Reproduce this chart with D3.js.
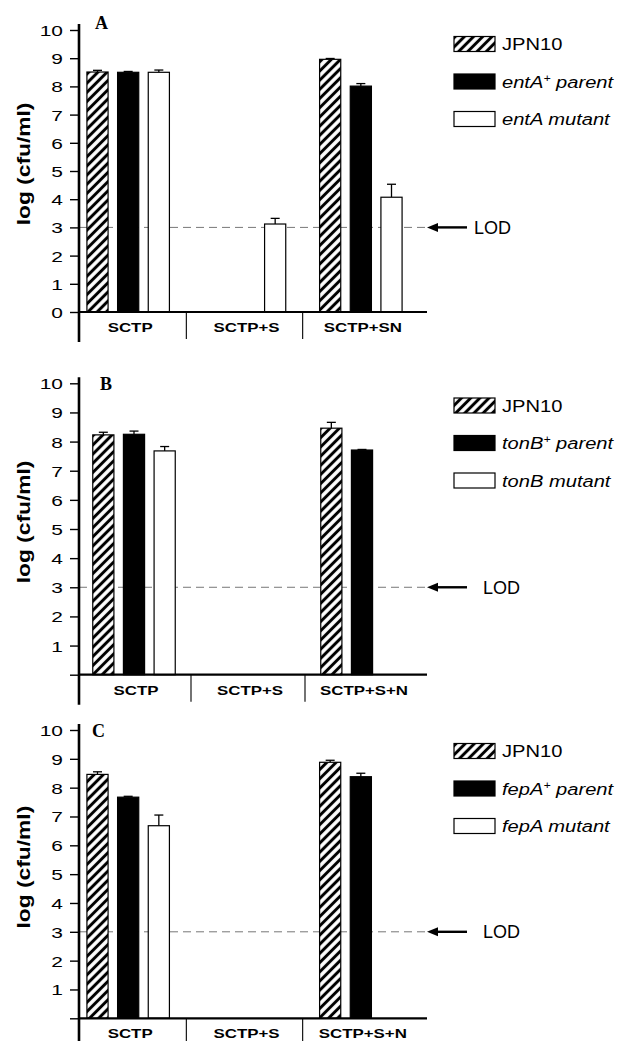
<!DOCTYPE html>
<meta charset="utf-8">
<style>
body { margin: 0; background: #fff; }
text { font-family: "Liberation Sans", Arial, sans-serif; fill: #000; }
</style>
<body>
  <svg></svg>
</body>
<script src="https://cdn.jsdelivr.net/npm/d3@7"></script>
<script>

// ---- data (log cfu/ml), rows = series, columns = categories, null = no bar
var series = ["JPN10", "parent", "mutant"];
var yTicks = [0, 1, 2, 3, 4, 5, 6, 7, 8, 9, 10];
var lod = 3;

var categoriesA = ["SCTP", "SCTP+S", "SCTP+SN"];
var valuesA = [[8.51, null, 8.96], [8.50, null, 8.01], [8.50, 3.12, 4.07]];
var errorsA = [[0.06, 0, 0.03], [0.03, 0, 0.09], [0.08, 0.20, 0.46]];

var categoriesB = ["SCTP", "SCTP+S", "SCTP+S+N"];
var valuesB = [[8.23, null, 8.46], [8.25, null, 7.71], [7.68, null, 0]];
var errorsB = [[0.09, 0, 0.20], [0.11, 0, 0.02], [0.15, 0, 0]];

var categoriesC = ["SCTP", "SCTP+S", "SCTP+S+N"];
var valuesC = [[8.46, null, 8.88], [7.67, null, 8.38], [6.68, null, null]];
var errorsC = [[0.09, 0, 0.07], [0.03, 0, 0.12], [0.37, 0, 0]];

var genes = ["entA", "tonB", "fepA"];

// ---- layout per panel
var panels = [
  {letter: "A", cats: categoriesA, values: valuesA, errors: errorsA, gene: genes[0],
   top: 30, bottom: 312, xRange: [70, 419], showZero: true,
   letterX: 95, letterY: 29, legendY: 50, lodX: 474},
  {letter: "B", cats: categoriesB, values: valuesB, errors: errorsB, gene: genes[1],
   top: 383.3, bottom: 674.7, xRange: [77, 419], showZero: false,
   letterX: 100, letterY: 390, legendY: 411.5, lodX: 483},
  {letter: "C", cats: categoriesC, values: valuesC, errors: errorsC, gene: genes[2],
   top: 730, bottom: 1018.3, xRange: [70, 419], showZero: false,
   letterX: 92, letterY: 737, legendY: 757, lodX: 483}
];

var width = 619, height = 1041;
var axisX = 79, axisEnd = 427;

var svg = d3.select("svg").attr("width", width).attr("height", height);

var defs = svg.append("defs");
var pat = defs.append("pattern")
    .attr("id", "hatch")
    .attr("patternUnits", "userSpaceOnUse")
    .attr("width", 6.5).attr("height", 6.5)
    .attr("patternTransform", "rotate(45)");
pat.append("rect").attr("width", 6.5).attr("height", 6.5).attr("fill", "#fff");
pat.append("line").attr("x1", 3.25).attr("x2", 3.25).attr("y1", 0).attr("y2", 6.5)
    .attr("stroke", "#000").attr("stroke-width", 3);

var fills = ["url(#hatch)", "#000", "#fff"];

// stretched text helper (the scanned figure is wider than the fonts)
function stext(g, x, y, txt, sx, anchor) {
  return g.append("text")
      .attr("transform", "translate(" + x + "," + y + ") scale(" + sx + ",1)")
      .attr("text-anchor", anchor || "start")
      .text(txt);
}

panels.forEach(function(p) {
  var g = svg.append("g");

  var y = d3.scaleLinear().domain([0, 10]).range([p.bottom, p.top]);
  var x = d3.scaleBand().domain(p.cats).range(p.xRange).padding(0);
  var xs = d3.scaleBand().domain(series).range([-46, 46])
      .paddingInner(0.31).paddingOuter(0.155);

  // LOD dashed line
  g.append("line")
      .attr("x1", axisX).attr("x2", axisEnd)
      .attr("y1", y(lod)).attr("y2", y(lod))
      .attr("stroke", "#777").attr("stroke-width", 1)
      .attr("stroke-dasharray", "8,5");

  // bars
  var bars = [];
  p.values.forEach(function(row, si) {
    row.forEach(function(v, ci) {
      if (v === null) return;
      bars.push({s: series[si], si: si, c: p.cats[ci], v: v, e: p.errors[si][ci]});
    });
  });

  var bg = g.selectAll(".bar").data(bars).enter().append("g").attr("class", "bar");

  bg.filter(function(d) { return d.e > 0.01; }).each(function(d) {
    var cx = x(d.c) + x.bandwidth() / 2 + xs(d.s) + xs.bandwidth() / 2;
    var s = d3.select(this);
    s.append("line").attr("x1", cx).attr("x2", cx)
        .attr("y1", y(d.v)).attr("y2", y(d.v + d.e))
        .attr("stroke", "#000").attr("stroke-width", 1.3);
    s.append("line").attr("x1", cx - 4.5).attr("x2", cx + 4.5)
        .attr("y1", y(d.v + d.e)).attr("y2", y(d.v + d.e))
        .attr("stroke", "#000").attr("stroke-width", 1.3);
  });

  bg.append("rect")
      .attr("x", function(d) { return x(d.c) + x.bandwidth() / 2 + xs(d.s); })
      .attr("width", xs.bandwidth())
      .attr("y", function(d) { return y(d.v); })
      .attr("height", function(d) { return y(0) - y(d.v); })
      .attr("fill", function(d) { return fills[d.si]; })
      .attr("stroke", "#000").attr("stroke-width", 1.2);

  // y axis
  var yAxis = d3.axisLeft(y).tickValues(yTicks).tickSize(9).tickPadding(0)
      .tickFormat(function(d) { return (d > 0 || p.showZero) ? d : ""; });
  var ya = g.append("g").attr("transform", "translate(" + axisX + ",0)").call(yAxis);
  ya.select(".domain").remove();
  ya.selectAll(".tick line").attr("stroke-width", 1.4);
  ya.selectAll(".tick text")
      .attr("x", null).attr("dy", null)
      .attr("transform", "translate(-16,5.5) scale(1.35,1)")
      .style("font-family", "'Liberation Sans', Arial, sans-serif")
      .style("font-size", "15.5px");

  g.append("line")
      .attr("x1", axisX).attr("x2", axisX)
      .attr("y1", p.top - 6).attr("y2", p.bottom + 30)
      .attr("stroke", "#000").attr("stroke-width", 2.6);

  // x axis
  g.append("line")
      .attr("x1", axisX).attr("x2", axisEnd)
      .attr("y1", y(0)).attr("y2", y(0))
      .attr("stroke", "#000").attr("stroke-width", 2.2);

  p.cats.slice(1).forEach(function(c) {
    g.append("line")
        .attr("x1", x(c)).attr("x2", x(c))
        .attr("y1", y(0)).attr("y2", y(0) + 27)
        .attr("stroke", "#000").attr("stroke-width", 1.1);
  });

  p.cats.forEach(function(c) {
    stext(g, x(c) + x.bandwidth() / 2 + 2, y(0) + 20, c, 1.35, "middle")
        .style("font-weight", "bold").style("font-size", "12.5px");
  });

  // y label
  g.append("text")
      .attr("transform", "translate(30," + ((p.top + p.bottom) / 2 - 7) + ") rotate(-90) scale(1.2,1)")
      .attr("text-anchor", "middle")
      .style("font-weight", "bold").style("font-size", "19px")
      .text("log (cfu/ml)");

  // panel letter
  g.append("text")
      .attr("x", p.letterX).attr("y", p.letterY)
      .style("font-family", "'Liberation Serif', 'Times New Roman', serif")
      .style("font-weight", "bold").style("font-size", "18px")
      .text(p.letter);

  // LOD arrow + label
  var ly = y(lod);
  g.append("line")
      .attr("x1", axisEnd + 8).attr("x2", axisEnd + 40)
      .attr("y1", ly).attr("y2", ly)
      .attr("stroke", "#000").attr("stroke-width", 2.4);
  g.append("path")
      .attr("d", "M" + axisEnd + "," + ly + "l11,-4.5l0,9z")
      .attr("fill", "#000");
  g.append("text")
      .attr("x", p.lodX).attr("y", ly + 6.5)
      .style("font-size", "18px")
      .text("LOD");

  // legend
  var leg = g.append("g");
  series.forEach(function(s, i) {
    var by = p.legendY + i * 37.5;
    leg.append("rect")
        .attr("x", 454).attr("y", by - 13.5)
        .attr("width", 41).attr("height", 15)
        .attr("fill", fills[i]).attr("stroke", "#000").attr("stroke-width", 1.2);
    var t = leg.append("text")
        .attr("transform", "translate(502," + by + ") scale(1.22,1)")
        .style("font-size", "16.5px");
    if (i === 0) {
      t.text(s);
    } else if (i === 1) {
      t.style("font-style", "italic");
      t.append("tspan").text(p.gene);
      t.append("tspan").attr("dy", -6).style("font-size", "10px").text("+");
      t.append("tspan").attr("dy", 6).text(" parent");
    } else {
      t.style("font-style", "italic").text(p.gene + " mutant");
    }
  });
});

</script>
